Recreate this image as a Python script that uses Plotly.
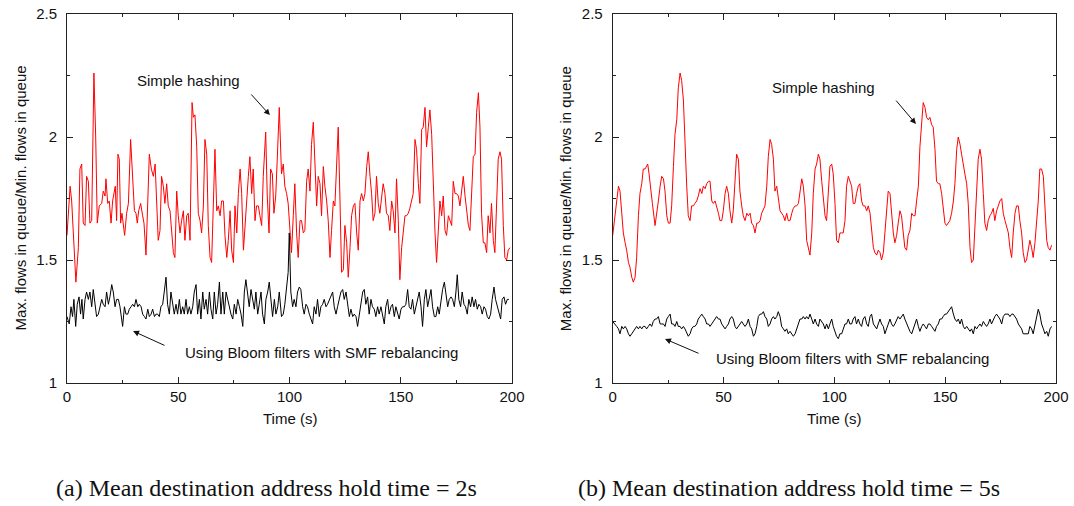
import plotly.graph_objects as go

# ---------------- data: panel (a) ----------------
a_red_t = [0,1.4,2.1,2.9,4,5.1,5.8,6.6,7.3,8.1,8.8,9.6,10.3,11.1,12.1,12.9,13.6,14.5,15.6,16.3,
           17.1,17.5,18.3,19,19.8,20.5,21.1,21.7,22.3,22.9,23.5,24.1,24.7,25.3,25.9,26.8,27.6,28.6,29.5,30.3,
           31,31.6,32.2,33.1,34,34.6,35.5,36.3,37,37.9,38.8,39.6,40.3,41,
           41.8,42.5,43.3,44,44.8,45.5,46.3,47,47.8,48.5,49.3,50,50.8,51.5,52.3,53,53.8,54.5,55.3,56.2,
           56.8,57.5,58.3,59,59.8,60.5,61.3,62,62.8,63.5,64.3,65,65.8,66.5,67.3,68,68.8,69.5,70.3,71,
           71.8,72.5,73.3,74,74.8,75.5,76.3,77,77.8,78.5,79.3,80,80.7,81.5,82.2,83,83.7,84.5,85.2,86,
           86.7,87.5,88.2,
           89.3,90,90.8,91.5,92.3,93,93.8,94.5,95.4,
           96.4,97.2,97.9,98.7,99.4,100.2,100.9,101.7,102.4,103.2,103.9,104.7,105.4,106.2,106.9,107.7,108.4,109.2,109.9,110.7,
           111.4,112.2,112.9,113.7,114.4,115.2,115.9,116.7,117.4,118.2,118.9,119.7,120.4,121.2,121.9,122.7,123.4,124.2,124.9,125.7,
           126.4,127.2,127.9,128.7,129.4,130.2,130.9,131.7,132.4,133.2,133.9,134.7,135.4,136.2,136.9,137.6,138.4,139.1,139.9,140.6,
           141.4,142.1,142.9,143.6,144.4,145.1,145.9,146.6,147.4,148.1,148.9,149.6,150.4,151.1,151.9,152.6,153.4,154.1,154.9,155.6,
           156.4,157.1,157.9,158.6,159.4,160.1,160.9,161.6,162.4,163.1,163.9,164.6,165.4,166.1,166.9,167.6,168.4,169.1,169.9,170.6,
           171.4,172.1,172.9,173.6,174.4,175.1,175.9,176.6,177.4,178.1,178.9,179.6,180.4,181.1,181.9,182.6,183.4,184.1,184.9,185.6,
           186.3,187.1,187.8,188.6,189.3,190.1,190.8,191.6,192.3,193.1,193.8,194.6,195.3,196.1,196.8,197.6,198.3,199.1]
a_red_v = [1.60,1.80,1.74,1.58,1.41,1.55,1.87,1.89,1.65,1.64,1.84,1.82,1.65,1.66,2.26,2.00,1.65,1.72,1.73,1.78,
           1.76,1.83,1.73,1.74,1.65,1.74,1.77,1.80,1.66,1.93,1.91,1.65,1.69,1.65,1.60,1.69,1.73,1.99,1.84,1.70,
           1.69,1.65,1.70,1.73,1.68,1.65,1.52,1.73,1.93,1.87,1.84,1.89,1.76,1.58,
           1.62,1.84,1.80,1.73,1.81,1.72,1.70,1.61,1.53,1.51,1.78,1.68,1.61,1.66,1.70,1.58,1.68,1.69,1.58,2.14,
           2.08,2.09,1.96,1.69,1.66,1.61,1.72,1.99,1.93,1.64,1.51,1.49,1.73,1.95,1.70,1.72,1.68,1.74,1.74,1.60,
           1.51,1.58,1.70,1.54,1.49,1.72,1.61,1.77,1.87,1.77,1.54,1.64,1.77,1.84,1.92,1.77,1.87,1.66,1.72,1.72,
           1.68,1.64,1.84,
           2.02,1.76,1.61,1.87,1.85,1.69,1.76,1.91,2.12,
           1.85,1.89,1.80,1.77,1.73,1.64,1.53,1.68,1.81,1.61,
           1.51,1.66,1.66,1.61,1.62,1.82,1.87,1.78,1.97,2.06,
           1.88,1.72,1.84,1.81,1.68,1.88,1.80,1.74,1.66,1.51,
           1.62,1.74,1.72,1.92,2.04,1.74,1.45,1.46,1.64,1.57,
           1.43,1.55,1.68,1.72,1.73,1.61,1.54,1.74,1.77,1.74,
           1.77,1.88,1.94,1.84,1.77,1.66,1.69,1.84,1.73,1.69,
           1.77,1.81,1.77,1.69,1.68,1.62,1.74,1.70,1.61,1.83,
           1.66,1.42,1.55,1.62,1.68,1.68,1.69,1.71,1.74,1.77,
           1.99,1.95,1.81,1.73,2.03,2.04,2.12,1.96,2.04,2.11,
           2.01,1.77,1.61,1.49,1.61,1.74,1.68,1.76,1.62,1.60,
           1.68,1.66,1.64,1.82,1.77,1.77,1.76,1.72,1.80,1.84,
           1.76,1.69,1.64,1.62,1.76,1.92,1.93,2.10,2.18,2.04,
           1.69,1.57,1.57,1.53,1.68,1.61,1.73,1.58,1.53,1.72,
           1.91,1.94,1.91,1.64,1.51,1.50,1.54,1.55]

a_blk_t = [0,1,1.8,2.5,3.1,3.9,4.6,5.4,6.1,6.7,7.3,8.1,
           8.8,9.6,10.3,11.1,11.8,12.6,13.3,14.1,14.8,15.6,16.3,17.1,17.8,18.6,19.3,20.1,20.8,21.6,22.3,23.1,23.8,24.6,
           25.0,
           25.8,26.5,27.3,28,28.8,29.5,30.3,31,31.8,32.5,33.3,34,34.8,35.5,36.3,37,37.8,38.5,39.3,40,
           40.7,41.5,42.2,43,43.7,44.5,45.2,46,46.7,47.5,48.2,49,49.7,50.5,51.2,52,52.7,53.5,54.2,55,
           55.7,56.5,57.2,58,58.7,59.5,60.2,61,61.7,62.5,63.2,64,64.7,65.5,66.2,67,67.7,68.5,69.2,70,
           70.7,71.5,72.2,73,73.7,74.5,75.2,76,76.7,77.5,78.2,79,79.7,80.4,81.2,81.9,82.7,83.4,84.2,84.9,
           85.7,86.4,87.2,87.9,88.7,89.4,90.2,90.9,91.7,92.4,93.2,93.9,94.7,95.4,
           96.4,97.2,97.9,98.7,99.4,
           99.9,100.6,101.4,102.1,102.9,103.6,104.4,105.1,105.9,106.6,107.4,108.1,108.9,109.6,110.4,111.1,111.9,112.6,113.4,114.1,
           114.9,115.6,116.4,117.1,117.9,118.6,119.4,120.1,120.9,121.6,122.4,123.1,123.9,124.6,125.4,126.1,126.9,127.6,128.4,129.1,
           129.9,130.6,131.4,132.1,132.9,133.6,134.3,135.1,135.8,136.6,137.3,138.1,138.8,139.6,140.3,141.1,141.8,142.6,143.3,144.1,
           144.8,145.6,146.3,147.1,147.8,148.6,149.3,150.1,150.8,151.6,152.3,153.1,153.8,154.6,155.3,156.1,156.8,157.6,158.3,159.1,
           159.8,160.6,161.3,162.1,162.8,163.6,164.3,165.1,165.8,166.6,167.3,168.1,168.8,169.6,170.3,171.1,171.8,172.6,173.3,174.1,
           174.8,175.4,176.1,176.9,177.6,178.4,179.1,179.9,180.6,181.4,182.1,182.9,183.6,184.4,185.1,185.9,186.6,187.4,188.1,188.9,
           189.6,190.4,191.1,191.9,192.6,193.4,194.1,194.9,195.6,196.4,197.1,197.9,198.6]
a_blk_v = [1.27,1.24,1.31,1.27,1.34,1.23,1.32,1.35,1.28,1.34,1.26,1.34,
           1.37,1.34,1.37,1.31,1.38,1.31,1.27,1.28,1.31,1.34,1.32,1.31,1.37,1.32,1.35,1.40,1.37,1.31,1.34,1.34,1.31,1.26,
           1.23,
           1.31,1.28,1.28,1.30,1.31,1.32,1.31,1.34,1.31,1.32,
           1.31,1.28,1.27,1.26,1.30,1.27,1.28,1.30,1.27,1.28,
           1.28,1.27,1.31,1.32,1.37,1.43,1.32,1.28,1.37,1.31,
           1.28,1.32,1.28,1.34,1.28,1.31,1.28,1.34,1.28,1.31,
           1.28,1.31,1.37,1.40,1.28,1.34,1.26,1.37,1.30,1.34,
           1.28,1.37,1.30,1.26,1.37,1.28,1.32,1.41,1.28,1.37,
           1.28,1.37,1.34,1.31,1.28,1.26,1.32,1.28,1.34,1.31,
           1.28,1.23,1.37,1.42,1.37,1.31,1.38,1.34,1.30,1.37,
           1.28,1.32,1.37,1.28,1.24,1.34,1.37,1.41,1.32,1.27,
           1.34,1.28,1.31,1.37,
           1.27,1.28,1.32,1.39,1.45,
           1.61,1.37,1.31,1.34,1.31,1.37,1.39,1.38,1.31,1.28,
           1.32,1.31,1.28,1.26,1.24,1.31,1.28,1.34,1.27,1.31,
           1.32,1.34,1.31,1.32,1.34,1.35,1.37,1.31,1.28,1.31,
           1.34,1.37,1.38,1.34,1.37,1.31,1.27,1.30,1.27,1.28,
           1.27,1.23,1.28,1.32,1.37,1.38,1.32,1.35,1.28,1.34,
           1.31,1.30,1.27,1.31,1.28,1.31,1.28,1.24,1.31,1.34,
           1.28,1.31,1.32,1.27,1.31,1.28,1.26,1.30,1.31,1.31,
           1.32,1.38,1.31,1.30,1.34,1.28,1.31,1.34,1.37,1.31,
           1.23,1.34,1.38,1.31,1.34,1.38,1.31,1.27,1.27,1.31,
           1.28,1.34,1.38,1.41,1.37,1.31,1.34,1.35,1.34,1.31,
           1.37,1.44,1.34,1.31,1.37,1.32,1.31,1.28,1.34,1.31,
           1.35,1.31,1.34,1.30,1.32,1.31,1.28,1.31,1.30,1.27,
           1.26,1.28,1.34,1.39,1.34,1.31,1.28,1.26,1.34,1.35,
           1.32,1.34,1.34]

# ---------------- data: panel (b) ----------------
b_red_t = [0,1.1,1.8,2.6,3.3,4.1,4.8,5.6,6.3,7.1,7.8,8.6,9.3,10.1,10.8,11.6,12.3,13.1,13.8,14.6,15.3,
           15.8,16.4,17.1,17.9,
           19.1,19.8,20.6,21.4,22.1,22.9,23.6,24.4,25.1,25.9,26.6,27.4,28.1,28.9,29.6,30.4,31.1,31.9,32.6,33.4,
           34.1,34.9,35.6,36.4,37.1,37.9,38.6,39.4,40.2,40.9,41.7,42.4,43.2,43.9,44.7,45.4,46.2,46.9,47.7,48.4,
           49.2,49.9,50.7,51.4,52.2,52.9,53.7,54.4,55.2,55.9,56.7,57.4,58.2,58.9,59.7,60.5,61.2,62,62.7,63.5,
           64.2,65,65.7,66.5,67.2,68,68.7,69.5,70.2,71,71.7,72.5,73.2,74,74.7,75.5,76.2,77,77.7,78.5,
           79.2,80,80.8,81.5,82.3,83,83.8,84.5,85.3,86,86.8,87.5,88.3,89,89.8,90.5,91.3,92,92.8,93.5,
           94.3,95,95.8,96.5,97.3,98,98.8,99.5,
           100.3,101,101.8,102.5,103.3,104,104.8,105.5,106.3,107,107.8,108.5,109.3,110,110.8,111.5,112.3,113,113.8,114.6,
           115.3,116.1,116.8,117.6,118.3,119.1,119.8,120.6,121.3,122.1,122.8,123.6,124.3,125.1,125.8,126.6,127.3,128.1,128.8,129.6,
           130.3,131.1,131.8,132.6,133.3,134.1,134.9,135.6,136.4,137.1,137.9,138.6,139.4,140.1,140.9,141.6,142.4,143.1,143.9,144.6,
           145.4,146.1,146.9,147.6,148.4,149.1,149.9,150.6,151.4,152.1,152.9,153.7,154.4,155.2,155.9,156.7,157.4,158.2,158.9,159.7,
           160.4,161.2,161.9,162.7,163.4,164.2,164.9,165.7,166.4,167.2,167.9,168.7,169.4,170.2,170.9,171.7,172.4,173.2,173.9,174.7,
           175.5,176.2,177,177.7,178.5,179.2,180,180.7,181.5,182.2,183,183.7,184.5,185.2,186,186.7,187.5,188.2,189,189.7,
           190.5,191.2,192,192.7,193.5,194.3,195,195.8,196.5,197.3,198]
b_red_v = [1.60,1.68,1.74,1.80,1.78,1.69,1.61,1.57,1.54,1.49,1.47,1.43,1.41,1.43,1.51,1.68,1.77,1.81,1.87,1.87,1.88,
           1.89,1.85,1.78,1.73,
           1.64,1.68,1.74,1.80,1.84,1.83,1.78,1.68,1.65,1.65,
           1.72,1.88,2.01,2.07,2.20,2.26,2.23,2.15,1.97,1.80,
           1.68,1.66,1.72,1.72,1.73,1.74,1.76,1.79,1.77,1.80,
           1.79,1.81,1.82,1.82,1.74,1.73,1.74,1.72,1.69,1.66,
           1.66,1.70,1.77,1.80,1.77,1.70,1.65,1.70,1.85,1.93,
           1.91,1.78,1.72,1.68,1.66,1.69,1.68,1.69,1.65,1.64,
           1.61,1.65,1.65,1.66,1.69,1.71,1.72,1.80,1.92,1.99,
           1.97,1.91,1.78,1.80,1.74,1.70,1.69,1.68,1.66,1.69,
           1.66,1.66,1.69,1.71,1.72,1.72,1.73,1.77,1.83,1.80,
           1.72,1.58,1.54,1.52,1.61,1.77,1.87,1.89,1.93,1.91,
           1.82,1.74,1.68,1.66,1.80,1.88,1.89,1.85,
           1.73,1.58,1.57,1.61,1.61,1.61,1.66,1.80,1.84,1.82,
           1.80,1.73,1.73,1.77,1.80,1.81,1.74,1.72,1.72,1.70,
           1.72,1.69,1.61,1.55,1.53,1.52,1.54,1.53,1.50,1.53,
           1.61,1.72,1.78,1.77,1.69,1.61,1.57,1.60,1.65,1.70,
           1.68,1.61,1.55,1.54,1.60,1.62,1.69,1.68,1.68,1.74,
           1.80,1.96,2.08,2.14,2.12,2.08,2.07,2.08,2.05,2.04,
           1.95,1.82,1.81,1.81,1.77,1.72,1.65,1.64,1.65,1.66,
           1.69,1.74,1.81,1.95,2.00,1.97,1.93,1.88,1.85,1.81,
           1.73,1.55,1.49,1.50,1.64,1.74,1.91,1.95,1.91,1.77,
           1.65,1.62,1.66,1.68,1.69,1.71,1.66,1.70,1.72,1.74,
           1.75,1.69,1.66,1.64,1.61,1.55,1.51,1.61,1.69,1.72,
           1.72,1.66,1.61,1.53,1.49,1.50,1.55,1.58,1.55,1.51,
           1.57,1.64,1.74,1.87,1.87,1.84,1.72,1.58,1.55,1.54,
           1.56]

b_blk_t = [0,1.1,1.8,2.6,3.3,4.1,4.8,5.6,6.3,7.1,7.8,8.6,9.3,10.1,10.8,11.6,12.3,13.1,13.8,14.6,15.3,
           16.1,16.8,17.6,18.3,
           19.1,19.8,20.6,21.4,22.1,22.9,23.6,24.4,25.1,25.9,26.6,27.4,28.1,28.9,29.6,30.4,31.1,31.9,32.6,33.4,
           34.1,34.9,35.6,36.4,37.1,37.9,38.6,39.4,40.2,40.9,41.7,42.4,43.2,43.9,44.7,45.4,46.2,46.9,47.7,48.4,
           49.2,49.9,50.7,51.4,52.2,52.9,53.7,54.4,55.2,55.9,56.7,57.4,58.2,58.9,59.7,60.5,61.2,62,62.7,63.5,
           64.2,65,65.7,66.5,67.2,68,68.7,69.5,70.2,71,71.7,72.5,73.2,74,74.7,75.5,76.2,77,77.7,78.5,
           79.2,80,80.8,81.5,82.3,83,83.8,84.5,85.3,86,86.8,87.5,88.3,89,89.8,90.5,91.3,92,92.8,93.5,
           95,95.8,96.5,97.3,98,98.8,99.5,
           100.3,101,101.8,102.5,103.3,104,104.8,105.5,106.3,107,107.8,108.5,109.3,110,110.8,111.5,112.3,113,113.8,114.6,
           115.3,116.1,116.8,117.6,118.3,119.1,119.8,120.6,121.3,122.1,122.8,123.6,124.3,125.1,125.8,126.6,127.3,128.1,128.8,129.6,
           130.3,131.1,131.8,132.6,133.3,134.1,134.9,135.6,136.4,137.1,137.9,138.6,139.4,140.1,140.9,141.6,142.4,143.1,143.9,144.6,
           145.4,146.1,146.9,147.6,148.4,149.1,149.9,150.6,151.4,152.1,152.9,153.7,154.4,155.2,155.9,156.7,157.4,158.2,158.9,159.7,
           160.4,161.2,161.9,162.7,163.4,164.2,164.9,165.7,166.4,167.2,167.9,168.7,169.4,170.2,170.9,171.7,172.4,173.2,173.9,174.7,
           175.5,176.2,177,177.7,178.5,179.2,180,180.7,181.5,182.2,183,183.7,184.5,185.2,186,186.7,187.5,188.2,189,189.7,
           190.5,191.2,192,192.7,193.5,194.3,195,195.8,196.5,197.3,198]
b_blk_v = [1.25,1.24,1.23,1.22,1.20,1.23,1.22,1.23,1.22,1.20,1.19,1.20,1.21,1.22,1.23,1.22,1.23,1.22,1.23,1.23,1.22,
           1.23,1.24,1.23,1.25,
           1.26,1.26,1.27,1.24,1.24,1.24,1.23,1.26,1.27,1.28,
           1.24,1.24,1.23,1.25,1.23,1.23,1.22,1.23,1.22,1.20,
           1.19,1.20,1.22,1.23,1.23,1.24,1.26,1.27,1.28,1.27,
           1.26,1.24,1.24,1.23,1.24,1.25,1.26,1.27,1.26,1.26,
           1.24,1.23,1.22,1.23,1.24,1.26,1.27,1.26,1.23,1.22,
           1.23,1.24,1.25,1.24,1.23,1.24,1.26,1.23,1.22,1.19,
           1.20,1.23,1.27,1.28,1.28,1.29,1.27,1.26,1.23,1.24,
           1.26,1.27,1.26,1.27,1.29,1.27,1.23,1.22,1.21,1.22,
           1.20,1.21,1.20,1.19,1.20,1.22,1.24,1.26,1.26,1.27,
           1.26,1.27,1.26,1.28,1.26,1.24,1.26,1.24,1.23,1.26,
           1.24,1.22,1.24,1.22,1.24,1.26,1.23,
           1.21,1.19,1.18,1.20,1.20,1.22,1.24,1.24,1.26,1.24,
           1.24,1.26,1.27,1.24,1.26,1.24,1.23,1.26,1.27,1.24,
           1.23,1.27,1.28,1.24,1.23,1.22,1.24,1.26,1.24,1.23,
           1.20,1.22,1.24,1.26,1.24,1.23,1.24,1.26,1.27,1.26,
           1.27,1.28,1.26,1.24,1.23,1.21,1.20,1.22,1.24,1.26,
           1.23,1.21,1.23,1.24,1.23,1.22,1.24,1.24,1.23,1.22,
           1.21,1.23,1.24,1.26,1.26,1.27,1.28,1.28,1.29,1.30,
           1.31,1.28,1.26,1.25,1.26,1.24,1.26,1.23,1.22,1.23,
           1.22,1.21,1.22,1.20,1.23,1.22,1.23,1.24,1.23,1.25,
           1.24,1.23,1.24,1.26,1.24,1.26,1.27,1.28,1.27,1.26,
           1.24,1.27,1.28,1.28,1.28,1.27,1.28,1.28,1.27,1.26,
           1.24,1.23,1.22,1.20,1.20,1.20,1.20,1.23,1.22,1.20,
           1.24,1.27,1.30,1.28,1.24,1.22,1.20,1.21,1.19,1.22,
           1.23]

for t, v in [(a_red_t, a_red_v), (a_blk_t, a_blk_v), (b_red_t, b_red_v), (b_blk_t, b_blk_v)]:
    assert len(t) == len(v), (len(t), len(v))

x_major = [0, 50, 100, 150, 200]
y_major = [1, 1.5, 2, 2.5]
y_text = ["1", "1.5", "2", "2.5"]

red_label = "Simple hashing"
blk_label = "Using Bloom filters with SMF rebalancing"
x_title = "Time (s)"
y_title = "Max. flows in queue/Min. flows in queue"
captions = ["(a) Mean destination address hold time = 2s",
            "(b) Mean destination address hold time = 5s"]

# ---------------- figure ----------------
W, H = 1074, 506
SANS = "Liberation Sans, Arial, sans-serif"
SERIF = "Liberation Serif, Times New Roman, serif"


def px(x):      # window pixel -> paper fraction (x)
    return x / W


def py(y):      # window pixel -> paper fraction (y)
    return 1 - y / H


fig = go.Figure()
for xa, ya, rt, rv, bt, bv in [("x", "y", a_red_t, a_red_v, a_blk_t, a_blk_v),
                               ("x2", "y2", b_red_t, b_red_v, b_blk_t, b_blk_v)]:
    fig.add_trace(go.Scatter(x=rt, y=rv, mode="lines", line=dict(color="#ff0000", width=1),
                             xaxis=xa, yaxis=ya, showlegend=False, name=red_label))
    fig.add_trace(go.Scatter(x=bt, y=bv, mode="lines", line=dict(color="#000000", width=1),
                             xaxis=xa, yaxis=ya, showlegend=False, name=blk_label))

ydom = [py(383), py(14)]
xdoms = [[px(67), px(512)], [px(612.7), px(1056)]]

common = dict(showline=True, linecolor="#222", linewidth=1, mirror="allticks",
              ticks="inside", ticklen=6, tickwidth=1, tickcolor="#222",
              showgrid=False, zeroline=False, automargin=False, ticklabeloverflow="allow",
              tickfont=dict(family=SANS, size=15, color="#111"))

xax = dict(common, range=[0, 200], tickvals=x_major,
           minor=dict(dtick=25, ticks="inside", ticklen=3, tickcolor="#222", showgrid=False))
yax = dict(common, range=[1, 2.5], tickvals=y_major, ticktext=y_text, ticklabelstandoff=6,
           minor=dict(dtick=0.25, ticks="inside", ticklen=3, tickcolor="#222", showgrid=False))

fig.update_layout(
    template="none",
    width=W, height=H, margin=dict(l=0, r=0, t=0, b=0, pad=0, autoexpand=False),
    paper_bgcolor="white", plot_bgcolor="white",
    xaxis=dict(xax, domain=xdoms[0], anchor="y"),
    yaxis=dict(yax, domain=ydom, anchor="x"),
    xaxis2=dict(xax, domain=xdoms[1], anchor="y2"),
    yaxis2=dict(yax, domain=ydom, anchor="x2"),
)

ann = []
# axis titles and captions
for i, (xd, cap_x) in enumerate(zip(xdoms, [px(266), px(789)])):
    ann.append(dict(xref="paper", yref="paper", x=(xd[0] + xd[1]) / 2, y=py(418),
                    text=x_title, showarrow=False, xanchor="center", yanchor="middle",
                    font=dict(family=SANS, size=15, color="#111")))
    ann.append(dict(xref="paper", yref="paper", x=xd[0] - 47 / W, y=(ydom[0] + ydom[1]) / 2,
                    text=y_title, showarrow=False, textangle=-90, xanchor="center", yanchor="middle",
                    font=dict(family=SANS, size=15, color="#111")))
    ann.append(dict(xref="paper", yref="paper", x=cap_x, y=py(488),
                    text=captions[i], showarrow=False, xanchor="center", yanchor="middle",
                    font=dict(family=SERIF, size=24, color="#111")))

# series labels with arrows
labels = [
    ("x", "y", 54.4, 2.229, red_label, 91.2, 2.089, 82.2, 2.179),
    ("x", "y", 114.2, 1.126, blk_label, 29.7, 1.211, 44.5, 1.150),
    ("x2", "y2", 94.9, 2.203, red_label, 136.8, 2.053, 127.3, 2.154),
    ("x2", "y2", 108.0, 1.098, blk_label, 23.6, 1.179, 39.4, 1.118),
]
for xr, yr, tx, ty, txt, hx, hy, sx, sy in labels:
    ann.append(dict(xref=xr, yref=yr, x=tx, y=ty, text=txt, showarrow=False,
                    xanchor="center", yanchor="middle",
                    font=dict(family=SANS, size=15, color="#111")))
    ann.append(dict(xref=xr, yref=yr, x=hx, y=hy, ax=sx, ay=sy, axref=xr, ayref=yr,
                    text="", showarrow=True, arrowhead=2, arrowsize=1.2, arrowwidth=1,
                    arrowcolor="#111"))

fig.update_layout(annotations=ann)
# remove the browser's default 8px body margin so the figure fills the window exactly
fig.write_html("out.html", config={"displayModeBar": False},
               post_script="document.body.style.margin='0';")
